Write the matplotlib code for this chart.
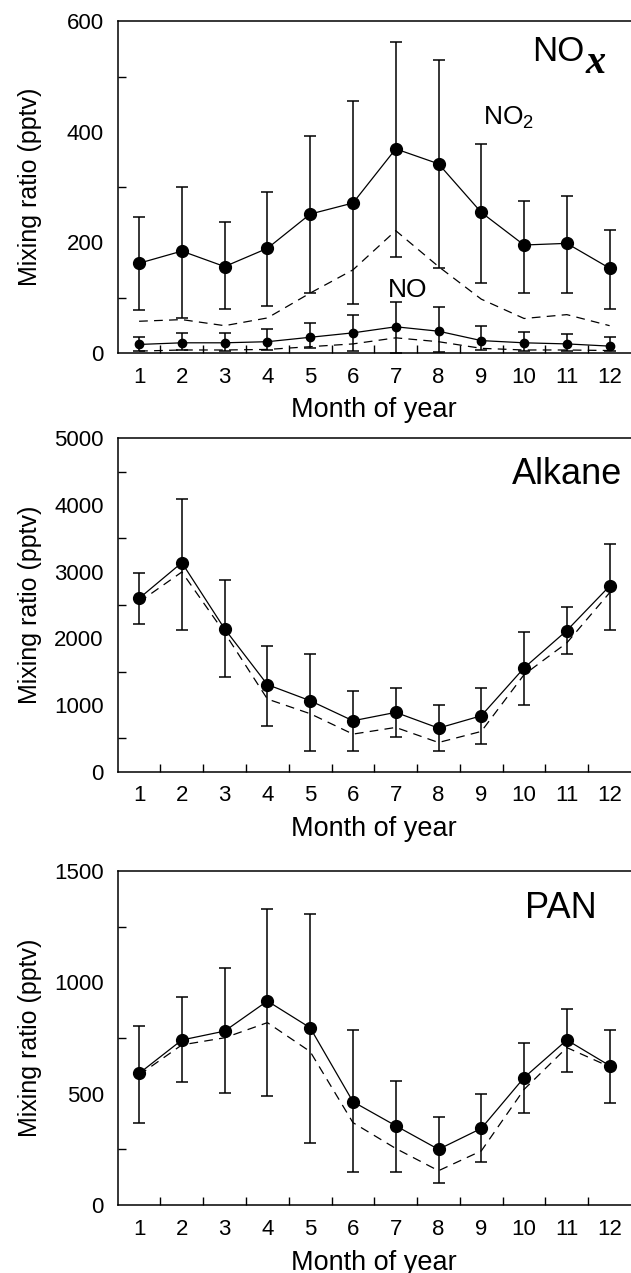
'''
Seasonal cycle of NOx, alkanes and PAN (monthly means with spread)
'''

# ---------------------------------------------------------------------------- #

import matplotlib as mpl
import matplotlib.pyplot as plt
import matplotlib.ticker as ticker
import numpy as np

mpl.rcParams['font.size']        = 16
mpl.rcParams['font.family']      = 'Liberation Sans'
mpl.rcParams['mathtext.fontset'] = 'custom'
mpl.rcParams['mathtext.rm']      = 'Liberation Sans'
mpl.rcParams['mathtext.it']      = 'Liberation Sans:italic'
mpl.rcParams['mathtext.bf']      = 'Liberation Sans:bold'

# ---------------------------------------------------------------------------- #

months = np.arange(1, 13)

# NO2 (pptv): mean, upper and lower bar ends, dashed curve
no2      = [162, 184, 156, 189, 251, 271, 369, 342, 254, 195, 198, 153]
no2_hi   = [246, 300, 236, 291, 393, 455, 562, 530, 378, 275, 284, 223]
no2_lo   = [77, 62, 79, 85, 108, 88, 173, 154, 127, 109, 109, 79]
no2_dash = [57, 60, 49, 63, 108, 150, 221, 156, 97, 62, 69, 49]

# NO (pptv)
no      = [15, 18, 18, 20, 28, 36, 47, 39, 22, 18, 16, 12]
no_hi   = [29, 35, 35, 43, 53, 68, 91, 82, 49, 38, 34, 28]
no_lo   = [4, 5, 4, 5, 8, 3, 0, 1, 5, 4, 4, 3]
no_dash = [3, 5, 5, 6, 11, 16, 27, 20, 8, 5, 5, 4]

# Alkane (pptv)
alk      = [2598, 3134, 2141, 1304, 1063, 762, 888, 652, 837, 1555, 2116, 2783]
alk_hi   = [2984, 4087, 2874, 1891, 1770, 1204, 1254, 1003, 1254, 2091, 2467, 3420]
alk_lo   = [2207, 2131, 1414, 687, 311, 311, 512, 311, 411, 1003, 1765, 2131]
alk_dash = [2543, 2994, 2081, 1088, 868, 562, 662, 436, 602, 1454, 1931, 2683]

# PAN (pptv)
pan      = [591, 741, 781, 916, 796, 464, 356, 250, 344, 572, 741, 626]
pan_hi   = [805, 933, 1063, 1329, 1307, 784, 557, 397, 497, 726, 879, 786]
pan_lo   = [370, 551, 504, 489, 280, 147, 147, 97, 195, 415, 596, 460]
pan_dash = [584, 719, 751, 819, 689, 370, 254, 154, 243, 519, 707, 621]

# ---------------------------------------------------------------------------- #

linewidth = 0.9
dashes = (7, 5)
ylims = [600, 5000, 1500]
ymajor = [200, 1000, 500]

# axes boxes [left, bottom, width, height] in figure fractions
boxes = [[0.1865, 0.7229, 0.8135, 0.2604],
         [0.1865, 0.3939, 0.8135, 0.2618],
         [0.1865, 0.0534, 0.8135, 0.2624]]

fig = plt.figure(figsize=(6.31, 12.73), dpi=100)
axarr = [fig.add_axes(b) for b in boxes]


def draw_series(ax, y, hi, lo, dash, ms):
    y = np.array(y)
    yerr = [y - np.array(lo), np.array(hi) - y]
    ax.errorbar(months, y, yerr=yerr, color='k', linewidth=linewidth,
                elinewidth=1.1, capsize=4.5, capthick=1.1,
                marker='o', markersize=ms, zorder=3)
    ax.plot(months, dash, color='k', linewidth=linewidth,
            linestyle=(0, dashes), zorder=2)


draw_series(axarr[0], no2, no2_hi, no2_lo, no2_dash, 8.5)
draw_series(axarr[0], no, no_hi, no_lo, no_dash, 6.0)
draw_series(axarr[1], alk, alk_hi, alk_lo, alk_dash, 8.5)
draw_series(axarr[2], pan, pan_hi, pan_lo, pan_dash, 8.5)

# Axes, ticks and labels.
for i, ax in enumerate(axarr):
    ax.set_xlim(0.5, 12.5)
    ax.set_ylim(0, ylims[i])
    ax.set_xticks(months)
    ax.xaxis.set_minor_locator(ticker.FixedLocator(months[:-1] + 0.5))
    ax.yaxis.set_major_locator(ticker.MultipleLocator(ymajor[i]))
    ax.yaxis.set_minor_locator(ticker.MultipleLocator(ymajor[i] / 2))
    ax.tick_params(which='major', length=0, pad=10, labelsize=16)
    ax.tick_params(which='minor', direction='in', length=5.5, width=1.0)
    ax.spines['right'].set_visible(False)
    for s in ['left', 'bottom', 'top']:
        ax.spines[s].set_linewidth(1.1)
    ax.set_xlabel('Month of year', fontsize=19.5, labelpad=7)
    ax.set_ylabel('Mixing ratio (pptv)', fontsize=18)
    ax.yaxis.set_label_coords(-0.1475, 0.5)
    ax.yaxis.label.set_va('bottom')

# Panel labels.
ax = axarr[0]
ax.text(0.910, 0.881, 'NO', transform=ax.transAxes, fontsize=25,
        ha='right', va='baseline')
ax.text(0.912, 0.845, 'x', transform=ax.transAxes, fontsize=29,
        family='Liberation Serif', style='italic', weight='bold',
        ha='left', va='baseline')
ax.text(0.712, 0.688, r'NO$_2$', transform=ax.transAxes, fontsize=19,
        ha='left', va='baseline')
ax.text(0.527, 0.169, 'NO', transform=ax.transAxes, fontsize=19,
        ha='left', va='baseline')
axarr[1].text(0.982, 0.863, 'Alkane', transform=axarr[1].transAxes,
              fontsize=26, ha='right', va='baseline')
axarr[2].text(0.794, 0.859, 'PAN', transform=axarr[2].transAxes,
              fontsize=26, ha='left', va='baseline')

plt.savefig('out.png', dpi=100)
